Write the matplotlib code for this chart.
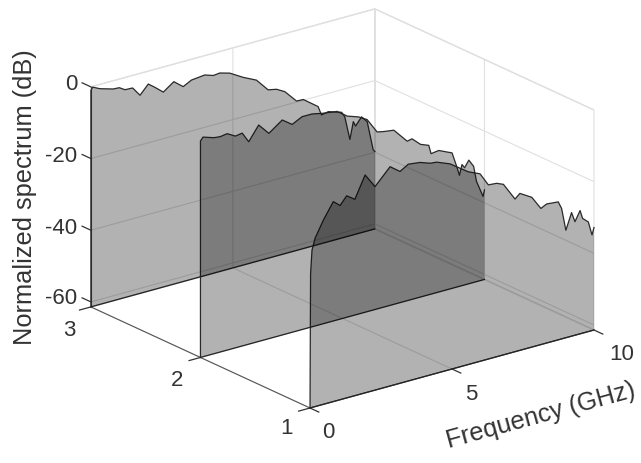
import matplotlib
matplotlib.use("Agg")
import matplotlib.pyplot as plt
from matplotlib.text import Text
from mpl_toolkits.mplot3d import proj3d
from mpl_toolkits.mplot3d.art3d import Poly3DCollection

plt.rcParams['font.family'] = ['Liberation Sans', 'DejaVu Sans']
plt.rcParams['axes.unicode_minus'] = False

Z_FLOOR = -61.4
f3 = [0,.06,.32,.79,1.0,1.2,1.47,1.73,2.02,2.25,2.55,2.92,3.25,3.54,4.01,4.31,4.54,4.89,5.36,5.83,6.24,6.54,6.83,7.24,7.48,8.0,8.12,8.36,8.83,8.94,9.12,9.24,9.32,9.53,9.73,9.94,10]
z3 = [-1.0,-.2,-1.2,-2.3,-2.4,-3.4,-3.5,-6.1,-3.6,-5.0,-7.0,-4.9,-7.0,-5.8,-5.4,-6.2,-6.0,-6.8,-9.0,-10.8,-14.4,-14.9,-16.2,-19.7,-19.8,-22.9,-25.5,-25.1,-26.3,-27.8,-34.5,-29.8,-31.2,-29.1,-30.9,-39.2,-39.8]
f2 = [0,.09,.47,.7,.94,1.23,1.47,1.7,2.05,2.41,2.88,3.23,3.58,3.93,4.28,4.81,5.17,5.57,5.87,6.22,6.45,6.81,7.28,7.45,7.75,8.04,8.12,8.39,8.86,9.01,9.12,9.21,9.3,9.45,9.62,9.72,9.95,10]
z2 = [-1.0,-.1,-1.1,-1.3,-1.0,-2.3,-2.0,-4.9,-1.0,-4.1,-1.4,-3.4,-2.0,-2.0,-2.6,-3.2,-5.3,-6.4,-7.8,-12.0,-12.4,-12.8,-16.9,-16.6,-18.8,-19.7,-22.2,-21.9,-23.6,-27.4,-30.4,-27.6,-28.7,-26.9,-29.0,-33.4,-38.1,-36.4]
f1 = [0,.02,.07,.18,.47,.82,1.06,1.29,1.58,1.94,2.29,2.82,3.17,3.46,3.87,4.23,4.46,4.93,5.57,5.99,6.28,6.57,6.81,7.22,7.39,7.81,8.13,8.33,8.74,8.86,9.01,9.21,9.33,9.51,9.6,9.8,9.93,10]
z1 = [-61.4,-24,-17.5,-14.4,-10,-5.6,-7.2,-5.0,-6.6,-.6,-4.6,-.2,-2.3,-.9,-1.3,-2.3,-2.5,-4.0,-7.6,-9.1,-12.8,-13.0,-13.8,-18.8,-17.6,-19.6,-23.4,-22.6,-22.9,-25.0,-31.4,-26.9,-29.7,-27.0,-29.4,-30.8,-34.7,-32.8]
series = [(3, f3, z3), (2, f2, z2), (1, f1, z1)]
xticks = [0, 5, 10]
yticks = [1, 2, 3]
zticks = [-60, -40, -20, 0]

fig = plt.figure(figsize=(6.41, 4.63), dpi=100)
ax = fig.add_axes([0.1, 0.1, 0.8, 0.8], projection='3d', proj_type='ortho')
ax.set_box_aspect((358.6, 358.6, 235.4))
ax.view_init(elev=20.85, azim=-127.65)
ax.set_xlim(0, 10, view_margin=0)
ax.set_ylim(1, 3, view_margin=0)
ax.set_zlim(Z_FLOOR, 0, view_margin=0)

for y, fr, zv in series:
    verts = [[(a, y, b) for a, b in zip(fr, zv)] + [(10, y, Z_FLOOR), (0, y, Z_FLOOR)]]
    ax.add_collection3d(Poly3DCollection(verts, facecolors=(0, 0, 0, 0.3), edgecolors='none', linewidths=0))
    ax.plot([0] + fr, [y] * (len(fr) + 1), [Z_FLOOR] + zv, color='#333333', lw=0.9)
    ax.plot([0, 10], [y, y], [Z_FLOOR, Z_FLOOR], color='#2a2a2a', lw=0.9)

ax.set_xticks(xticks)
ax.set_yticks(yticks)
ax.set_zticks(zticks)
ax.tick_params(labelsize=16, colors='#333333')
ax.zaxis.set_ticks_position('upper')
ax.zaxis.set_label_position('upper')
ax.set_xlabel('Frequency (GHz)', fontsize=18.3, color='#333333', rotation=14.9)
ax.zaxis.set_rotate_label(False)
ax.set_zlabel('Normalized spectrum (dB)', fontsize=18.3, color='#333333', rotation=90)
for axis in (ax.xaxis, ax.yaxis, ax.zaxis):
    axis.set_pane_color((1, 1, 1, 1))
    axis.pane.set_edgecolor('#e0e0e0')
    axis.line.set_color('#555555')
    axis.line.set_linewidth(0.8)
    axis._axinfo['grid'].update(color='#e0e0e0', linewidth=0.8)
    axis._axinfo['tick'].update(inward_factor=0.0, outward_factor=-0.5, linewidth={True: 0.9, False: 0.5}, color='#555555')

# z ticks run along the y direction, up and to the left of the box edge
ax.zaxis._get_tickdir = lambda pos: 1
ax.zaxis._axinfo['tick'].update(outward_factor=0.5)

H = 463
W = 641


def pin(text, px, py):
    """Keep a text at a fixed pixel place whatever mplot3d computes for it."""
    text.set_position = lambda xy: Text.set_position(text, ax.transData.inverted().transform((px, H - py)))


pin(ax.xaxis.label, 541, 416)
pin(ax.zaxis.label, 25, 197)
for t, (px, py) in zip(ax.xaxis.get_major_ticks(), [(328, 433), (471, 394), (622, 355)]):
    t.label1.set_ha('center')
    t.label1.set_va('center')
    pin(t.label1, px, py)
for t, (px, py) in zip(ax.yaxis.get_major_ticks(), [(287, 429), (177, 380), (69, 330)]):
    t.label1.set_ha('center')
    t.label1.set_va('center')
    pin(t.label1, px, py)
for t, (px, py) in zip(ax.zaxis.get_major_ticks(), [(77, 299), (77, 228), (77, 157), (77, 85)]):
    t.label1.set_ha('right')
    t.label1.set_va('center')
    pin(t.label1, px, py)


def corner(x, y, z):
    xs, ys, _ = proj3d.proj_transform(x, y, z, ax.get_proj())
    return ax.transData.transform((xs, ys))


# Fit the axes box so that the floor corners land where they do in the reference
size = 400.0
left, bottom = 100.0, 30.0
for _ in range(3):
    ax.set_position([left / W, bottom / H, size / W, size / H])
    fig.canvas.draw()
    p0, p1 = corner(0, 1, Z_FLOOR), corner(10, 1, Z_FLOOR)
    k = 284.0 / (p1[0] - p0[0])
    size *= k
    ax.set_position([left / W, bottom / H, size / W, size / H])
    fig.canvas.draw()
    p0 = corner(0, 1, Z_FLOOR)
    left += 310 - p0[0]
    bottom += (H - 408) - p0[1]
ax.set_position([left / W, bottom / H, size / W, size / H])

fig.savefig('out.png', dpi=100)
